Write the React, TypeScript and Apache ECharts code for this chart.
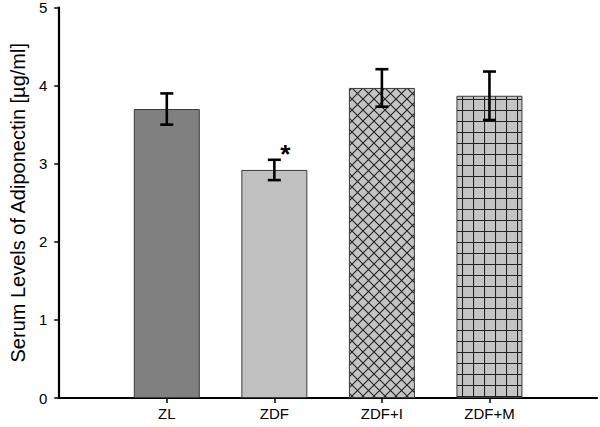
import React, { useEffect, useRef } from "react";
import * as echarts from "echarts";

const categories = ["", "ZL", "ZDF", "ZDF+I", "ZDF+M", ""];
const groups = ["ZL", "ZDF", "ZDF+I", "ZDF+M"];
const means = [3.7, 2.92, 3.97, 3.87];
const errors = [0.2, 0.13, 0.24, 0.31];
const sigMarks = ["", "*", "", ""];
const yTicks = [0, 1, 2, 3, 4, 5];

function makePattern(kind: "cross" | "grid"): HTMLCanvasElement {
  const s = 11;
  const c = document.createElement("canvas");
  c.width = s;
  c.height = s;
  const ctx = c.getContext("2d")!;
  ctx.fillStyle = "#c4c4c4";
  ctx.fillRect(0, 0, s, s);
  ctx.strokeStyle = "#222";
  ctx.lineWidth = 1.1;
  ctx.beginPath();
  if (kind === "cross") {
    ctx.moveTo(-1, -1);
    ctx.lineTo(s + 1, s + 1);
    ctx.moveTo(s + 1, -1);
    ctx.lineTo(-1, s + 1);
  } else {
    ctx.moveTo(0.5, 0);
    ctx.lineTo(0.5, s);
    ctx.moveTo(0, 0.5);
    ctx.lineTo(s, 0.5);
  }
  ctx.stroke();
  return c;
}

export default function App() {
  const ref = useRef<HTMLDivElement>(null);
  useEffect(() => {
    if (!ref.current) return;
    const chart = echarts.init(ref.current, null, { renderer: "svg" });
    const crossPat = makePattern("cross");
    const gridPat = makePattern("grid");
    const fills: any[] = [
      "#808080",
      "#c0c0c0",
      { image: crossPat, repeat: "repeat" },
      { image: gridPat, repeat: "repeat" },
    ];
    const barData: any[] = [null];
    groups.forEach((g, i) => {
      barData.push({
        value: means[i],
        itemStyle: { color: fills[i], borderColor: "#3a3a3a", borderWidth: 1 },
      });
    });
    barData.push(null);
    const errData = groups.map((g, i) => [i + 1, means[i] - errors[i], means[i] + errors[i], means[i]]);
    const sigData = groups
      .map((g, i) => ({ idx: i + 1, y: means[i] + errors[i], mark: sigMarks[i] }))
      .filter((d) => d.mark)
      .map((d) => ({ value: [d.idx, d.y], mark: d.mark }));
    const font = "'Liberation Sans', Arial, sans-serif";
    chart.setOption({
      animation: false,
      grid: { left: 54, right: 2, top: 6, bottom: 29, containLabel: false },
      xAxis: {
        type: "category",
        data: categories,
        boundaryGap: false,
        axisLine: { lineStyle: { color: "#000", width: 2.2 } },
        axisTick: {
          show: true,
          length: 5,
          lineStyle: { color: "#000", width: 1.5 },
          interval: (idx: number, v: string) => v !== "",
        },
        axisLabel: { color: "#000", fontSize: 15, fontFamily: font, margin: 8, interval: 0 },
        splitLine: { show: false },
      },
      yAxis: {
        type: "value",
        min: yTicks[0],
        max: yTicks[yTicks.length - 1],
        interval: 1,
        name: "Serum Levels of Adiponectin [µg/ml]",
        nameLocation: "middle",
        nameGap: 28,
        nameTextStyle: { color: "#000", fontSize: 20, fontFamily: font },
        axisLine: { show: true, lineStyle: { color: "#000", width: 2.2 } },
        axisTick: { show: true, length: 5, lineStyle: { color: "#000", width: 1.5 } },
        axisLabel: { color: "#000", fontSize: 15, fontFamily: font, margin: 12 },
        splitLine: { show: false },
      },
      series: [
        {
          type: "bar",
          data: barData,
          barWidth: 66,
          silent: true,
        },
        {
          type: "custom",
          data: errData,
          z: 5,
          renderItem: (params: any, api: any) => {
            const x = api.value(0);
            const lo = api.coord([x, api.value(1)]);
            const hi = api.coord([x, api.value(2)]);
            const hw = 6.5;
            const st = { stroke: "#000", lineWidth: 2.6 };
            return {
              type: "group",
              children: [
                { type: "line", shape: { x1: lo[0], y1: lo[1], x2: hi[0], y2: hi[1] }, style: st },
                { type: "line", shape: { x1: lo[0] - hw, y1: lo[1], x2: lo[0] + hw, y2: lo[1] }, style: st },
                { type: "line", shape: { x1: hi[0] - hw, y1: hi[1], x2: hi[0] + hw, y2: hi[1] }, style: st },
              ],
            };
          },
        },
        {
          type: "custom",
          data: sigData,
          z: 6,
          renderItem: (params: any, api: any) => {
            const p = api.coord([api.value(0), api.value(1)]);
            const d = sigData[params.dataIndex];
            return {
              type: "text",
              x: p[0] + 11,
              y: p[1] - 6,
              style: {
                text: d.mark,
                fill: "#000",
                font: "bold 26px " + font,
                align: "center",
                verticalAlign: "middle",
              },
            };
          },
        },
      ],
    });
    return () => chart.dispose();
  }, []);
  return <div ref={ref} style={{ width: 600, height: 427, position: "absolute", left: 0, top: 0 }} />;
}
